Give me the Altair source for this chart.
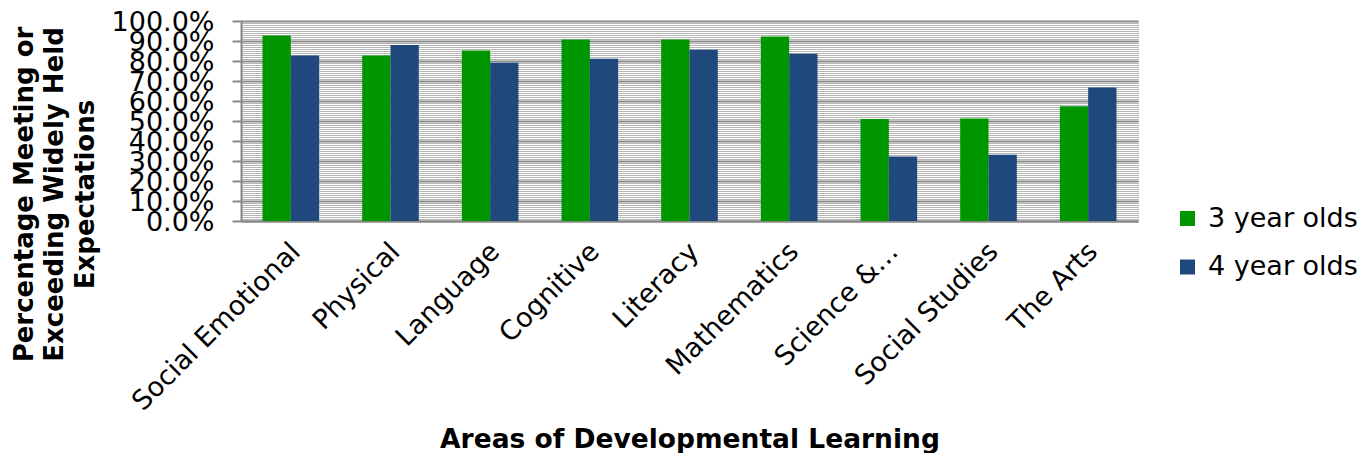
import altair as alt
import pandas as pd

categories = ["Social Emotional", "Physical", "Language", "Cognitive", "Literacy",
              "Mathematics", "Science &…", "Social Studies", "The Arts"]
series_names = ["3 year olds", "4 year olds"]
three_year = [92.8, 82.8, 85.2, 90.7, 90.8, 92.3, 51.0, 51.3, 57.4]
four_year = [82.8, 88.0, 79.1, 81.1, 85.6, 83.6, 32.3, 33.1, 66.7]
y_tick_values = list(range(0, 101))

rows = []
for c, a, b in zip(categories, three_year, four_year):
    rows.append({"area": c, "group": series_names[0], "pct": a})
    rows.append({"area": c, "group": series_names[1], "pct": b})
df = pd.DataFrame(rows)

FONT = "DejaVu Sans"

chart = alt.Chart(df).mark_bar().encode(
    x=alt.X("area:N", sort=categories,
            scale=alt.Scale(paddingInner=0.432, paddingOuter=0.216),
            axis=alt.Axis(title="Areas of Developmental Learning",
                          titleFont=FONT, titleFontSize=26.5, titleFontWeight="bold",
                          titleColor="black", titleX=448.5, titleY=226.5,
                          titleAlign="center", titleBaseline="alphabetic",
                          labelAngle=315, labelAlign="right", labelBaseline="top",
                          labelFont=FONT, labelFontSize=27, labelColor="black",
                          labelPadding=17, labelOffset=-4, labelLimit=1000,
                          ticks=False, tickSize=0,
                          domainColor="#868686", domainWidth=2, grid=False,
                          labelOverlap=False, labelBound=False)),
    xOffset=alt.XOffset("group:N", sort=series_names,
                        scale=alt.Scale(paddingInner=0, paddingOuter=0)),
    y=alt.Y("pct:Q", scale=alt.Scale(domain=[0, 100], nice=False, zero=True),
            axis=alt.Axis(values=y_tick_values, orient="left",
                          title=["Percentage Meeting or", "Exceeding Widely Held", "Expectations"],
                          titleFont=FONT, titleFontSize=26, titleFontWeight="bold",
                          titleColor="black", titleAngle=270, titleAlign="center",
                          titleBaseline="alphabetic", titleLineHeight=30.5,
                          titleX=-209, titleY=173,
                          labelExpr="datum.value % 10 === 0 ? format(datum.value, '.1f') + '%' : ''",
                          labelFont=FONT, labelFontSize=27, labelColor="black",
                          labelPadding=18, labelOverlap=False, labelBound=False,
                          labelBaseline="middle", labelOffset=1.5, labelLimit=1000,
                          tickSize=9, tickWidth=2,
                          tickColor={"condition": {"test": "datum.value % 10 === 0", "value": "#868686"},
                                     "value": "transparent"},
                          domainColor="#868686", domainWidth=2,
                          grid=True,
                          gridColor={"condition": {"test": "datum.value % 10 === 0", "value": "#8a8a8a"},
                                     "value": "#b6b6b6"},
                          gridWidth={"condition": {"test": "datum.value % 10 === 0", "value": 2},
                                     "value": 1})),
    color=alt.Color("group:N", sort=series_names,
                    scale=alt.Scale(domain=series_names, range=["#009600", "#1f497d"]),
                    legend=alt.Legend(title=None, orient="none", legendX=933, legendY=184,
                                      padding=0, symbolType="square", symbolSize=225,
                                      symbolStrokeWidth=0, labelFont=FONT, labelFontSize=27,
                                      labelColor="black", labelOffset=7, rowPadding=20.5,
                                      labelLimit=1000)),
).properties(
    width=897, height=200,
    padding={"left": 233, "top": 13, "right": 220, "bottom": 232},
    autosize=alt.AutoSizeParams(type="none"),
).configure_view(
    fill="#f3f3f3", stroke=None
).configure(font=FONT)

chart.save("out.html", embed_options={"renderer": "svg", "actions": False})
